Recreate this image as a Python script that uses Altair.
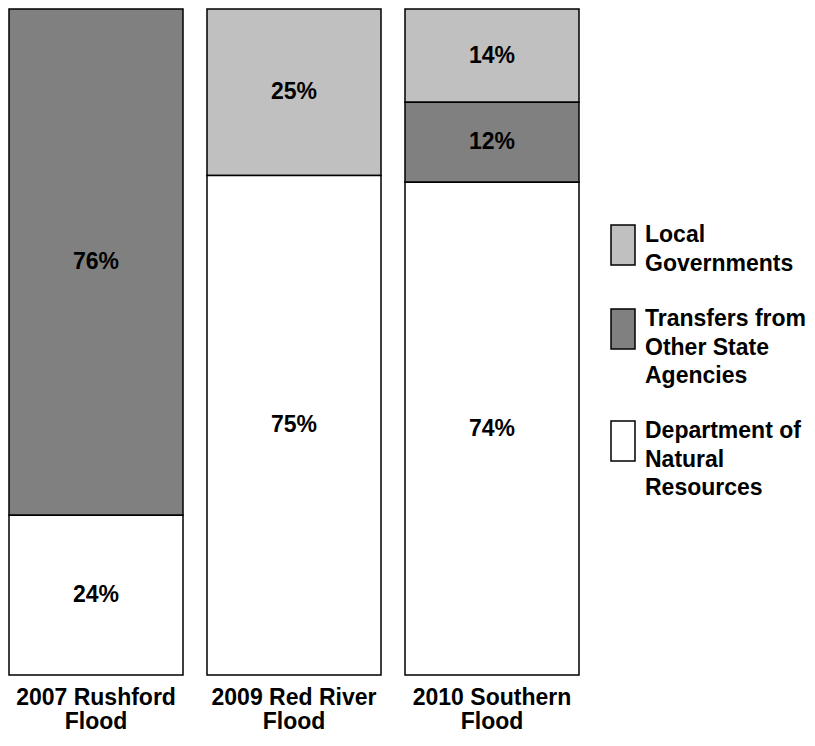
import json
import altair as alt
import pandas as pd

FONT = "Liberation Sans"

floods = ["2007 Rushford Flood", "2009 Red River Flood", "2010 Southern Flood"]
series = ["Local Governments", "Transfers from Other State Agencies", "Department of Natural Resources"]
local_gov = [0, 25, 14]
transfers = [76, 0, 12]
dnr = [24, 75, 74]
colors = ["#C0C0C0", "#808080", "#FFFFFF"]
stack_rank = {"Department of Natural Resources": 0,
              "Transfers from Other State Agencies": 1,
              "Local Governments": 2}

axis_lines = {
    "2007 Rushford Flood": ["2007 Rushford", "Flood"],
    "2009 Red River Flood": ["2009 Red River", "Flood"],
    "2010 Southern Flood": ["2010 Southern", "Flood"],
}
legend_lines = {
    "Local Governments": ["Local", "Governments"],
    "Transfers from Other State Agencies": ["Transfers from", "Other State", "Agencies"],
    "Department of Natural Resources": ["Department of", "Natural", "Resources"],
}

rows = []
for i, f in enumerate(floods):
    for s, vals in zip(series, [local_gov, transfers, dnr]):
        if vals[i] > 0:
            rows.append({"flood": f, "series": s, "value": vals[i],
                         "rank": stack_rank[s], "label": f"{vals[i]}%"})
df = pd.DataFrame(rows)

x_enc = alt.X(
    "flood:N", sort=floods,
    scale=alt.Scale(paddingInner=0.1212, paddingOuter=0),
    axis=alt.Axis(
        title=None, domain=False, ticks=False, labelAngle=0,
        labelExpr=f"{json.dumps(axis_lines)}[datum.label]",
        labelFont=FONT, labelFontSize=23, labelFontWeight="bold",
        labelColor="black", labelPadding=11, labelLineHeight=24,
        labelBaseline="top", labelLimit=0,
    ),
)

bars = alt.Chart(df).mark_bar(stroke="black", strokeWidth=1.5).encode(
    x=x_enc,
    y=alt.Y("value:Q", stack="zero", scale=alt.Scale(domain=[0, 100], nice=False), axis=None),
    color=alt.Color(
        "series:N",
        scale=alt.Scale(domain=series, range=colors),
        legend=alt.Legend(
            title=None, orient="none", legendX=593, legendY=212,
            symbolType="M-0.6,-0.85L0.6,-0.85L0.6,1.15L-0.6,1.15Z",
            symbolSize=1600, symbolStrokeColor="black", symbolStrokeWidth=1.5,
            symbolOpacity=1,
            labelFont=FONT, labelFontSize=23, labelFontWeight="bold",
            labelColor="black", labelOffset=1, labelLimit=0,
            labelBaseline="alphabetic",
            labelExpr=f"{json.dumps(legend_lines)}[datum.label]",
            rowPadding=29,
        ),
    ),
    order=alt.Order("rank:Q"),
)

texts = alt.Chart(df).transform_stack(
    stack="value", groupby=["flood"], as_=["y0", "y1"],
    sort=[alt.SortField("rank", order="ascending")],
).transform_calculate(
    mid="(datum.y0 + datum.y1) / 2"
).mark_text(
    font=FONT, fontSize=23, fontWeight="bold", color="black", baseline="middle"
).encode(
    x=alt.X("flood:N", sort=floods),
    y=alt.Y("mid:Q"),
    text="label:N",
)

chart = alt.layer(bars, texts).properties(
    width=570, height=666,
    autosize=alt.AutoSizeParams(type="none"),
    padding={"left": 1, "top": 1, "right": 226, "bottom": 58},
).configure(
    style={"guide-label": {"lineHeight": 28.5}},
).configure_view(stroke=None)

chart.save("out.html", embed_options={"renderer": "svg", "actions": False})
